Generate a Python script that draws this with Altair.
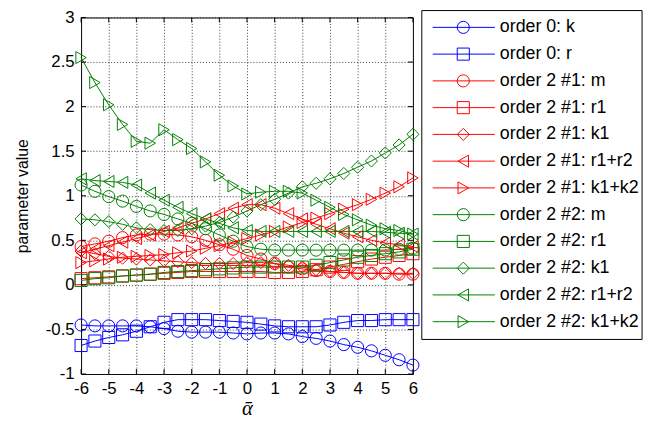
import altair as alt
import pandas as pd

x_vals = [-6, -5.5, -5, -4.5, -4, -3.5, -3, -2.5, -2, -1.5, -1, -0.5, 0,
          0.5, 1, 1.5, 2, 2.5, 3, 3.5, 4, 4.5, 5, 5.5, 6]

series_names = [
    "order 0: k", "order 0: r",
    "order 2 #1: m", "order 2 #1: r1", "order 2 #1: k1", "order 2 #1: r1+r2", "order 2 #1: k1+k2",
    "order 2 #2: m", "order 2 #2: r1", "order 2 #2: k1", "order 2 #2: r1+r2", "order 2 #2: k1+k2",
]
series_colors = ["#0000ff", "#0000ff",
                 "#ff0000", "#ff0000", "#ff0000", "#ff0000", "#ff0000",
                 "#008000", "#008000", "#008000", "#008000", "#008000"]
series_shapes = ["circle", "square",
                 "circle", "square", "diamond", "triangle-left", "triangle-right",
                 "circle", "square", "diamond", "triangle-left", "triangle-right"]

o0_k = [-0.45, -0.46, -0.46, -0.46, -0.46, -0.47, -0.49, -0.52, -0.53, -0.53, -0.53, -0.54, -0.55,
        -0.54, -0.54, -0.55, -0.58, -0.60, -0.63, -0.67, -0.70, -0.74, -0.79, -0.84, -0.90]
o0_r = [-0.68, -0.63, -0.59, -0.56, -0.52, -0.47, -0.42, -0.39, -0.39, -0.39, -0.40, -0.41, -0.42,
        -0.44, -0.46, -0.47, -0.47, -0.47, -0.45, -0.42, -0.40, -0.40, -0.39, -0.39, -0.39]
a_m = [0.43, 0.46, 0.49, 0.53, 0.56, 0.57, 0.57, 0.56, 0.54, 0.50, 0.45, 0.40, 0.33,
       0.29, 0.24, 0.20, 0.18, 0.16, 0.15, 0.14, 0.13, 0.13, 0.13, 0.12, 0.12]
a_r1 = [0.07, 0.08, 0.09, 0.10, 0.11, 0.12, 0.13, 0.14, 0.15, 0.15, 0.15, 0.15, 0.15,
        0.15, 0.14, 0.14, 0.15, 0.17, 0.20, 0.23, 0.26, 0.29, 0.31, 0.33, 0.35]
a_k1 = [0.38, 0.35, 0.32, 0.30, 0.29, 0.28, 0.27, 0.26, 0.25, 0.24, 0.24, 0.24, 0.25,
        0.25, 0.24, 0.22, 0.20, 0.17, 0.15, 0.14, 0.13, 0.13, 0.13, 0.13, 0.13]
a_r12 = [0.36, 0.40, 0.44, 0.48, 0.52, 0.56, 0.60, 0.64, 0.69, 0.74, 0.80, 0.86, 0.90,
         0.90, 0.86, 0.80, 0.74, 0.68, 0.63, 0.58, 0.54, 0.50, 0.47, 0.45, 0.43]
a_k12 = [0.25, 0.27, 0.29, 0.31, 0.32, 0.33, 0.34, 0.36, 0.38, 0.41, 0.44, 0.48, 0.52,
         0.56, 0.60, 0.65, 0.70, 0.75, 0.80, 0.85, 0.90, 0.96, 1.03, 1.10, 1.20]
b_m = [1.12, 1.05, 0.99, 0.94, 0.88, 0.83, 0.79, 0.74, 0.69, 0.63, 0.56, 0.49, 0.43,
       0.40, 0.39, 0.39, 0.39, 0.39, 0.39, 0.39, 0.39, 0.39, 0.39, 0.40, 0.41]
b_r1 = [0.05, 0.07, 0.08, 0.10, 0.11, 0.12, 0.14, 0.15, 0.16, 0.17, 0.18, 0.19, 0.20,
        0.20, 0.20, 0.20, 0.20, 0.22, 0.25, 0.28, 0.31, 0.33, 0.35, 0.37, 0.40]
b_k1 = [0.74, 0.73, 0.71, 0.68, 0.64, 0.62, 0.61, 0.61, 0.63, 0.66, 0.70, 0.76, 0.83,
        0.90, 0.96, 1.03, 1.10, 1.14, 1.19, 1.25, 1.32, 1.39, 1.48, 1.57, 1.69]
b_r12 = [1.19, 1.17, 1.16, 1.15, 1.12, 1.03, 0.95, 0.87, 0.80, 0.74, 0.69, 0.64, 0.61,
         0.60, 0.60, 0.60, 0.60, 0.60, 0.60, 0.60, 0.60, 0.60, 0.59, 0.58, 0.57]
b_k12 = [2.55, 2.27, 2.02, 1.80, 1.61, 1.59, 1.74, 1.63, 1.53, 1.38, 1.23, 1.11, 1.02,
         1.04, 1.05, 1.05, 1.03, 0.95, 0.87, 0.79, 0.73, 0.67, 0.63, 0.61, 0.57]

series_values = [o0_k, o0_r, a_m, a_r1, a_k1, a_r12, a_k12, b_m, b_r1, b_k1, b_r12, b_k12]

x_ticks = [-6, -5, -4, -3, -2, -1, 0, 1, 2, 3, 4, 5, 6]
y_ticks = [-1, -0.5, 0, 0.5, 1, 1.5, 2, 2.5, 3]

W, H = 336, 361

rows = []
for name, vals in zip(series_names, series_values):
    for xv, yv in zip(x_vals, vals):
        rows.append({"series": name, "x": xv, "value": yv})
df = pd.DataFrame(rows)
leg = pd.DataFrame({"series": series_names, "idx": list(range(len(series_names)))})
xt = pd.DataFrame({"x": x_ticks})
yt = pd.DataFrame({"value": y_ticks})

color_scale = alt.Scale(domain=series_names, range=series_colors)
shape_scale = alt.Scale(domain=series_names, range=series_shapes)

x_axis = alt.Axis(values=x_ticks, tickCount=13, title="ᾱ", labelExpr="datum.value",
                  labelOverlap=False, labelFlush=False,
                  titleFont="Liberation Serif", titleFontStyle="italic",
                  titleFontSize=21, titleFontWeight="normal", titlePadding=1,
                  labelPadding=7)
y_axis = alt.Axis(values=y_ticks, tickCount=9, title="parameter value", labelExpr="datum.value",
                  labelOverlap=False, labelFlush=False,
                  titleFontSize=16, titleFontWeight="normal", titlePadding=15,
                  labelPadding=7)
x_scale = alt.Scale(domain=[-6, 6], nice=False)
y_scale = alt.Scale(domain=[-1, 3], nice=False)

lines = alt.Chart(df).mark_line(strokeWidth=1).encode(
    x=alt.X("x:Q", scale=x_scale, axis=x_axis),
    y=alt.Y("value:Q", scale=y_scale, axis=y_axis),
    color=alt.Color("series:N", scale=color_scale, legend=None),
    order="x:Q",
)
points = alt.Chart(df).mark_point(filled=False, size=150, strokeWidth=1, opacity=1).encode(
    x=alt.X("x:Q", scale=x_scale, axis=x_axis),
    y=alt.Y("value:Q", scale=y_scale, axis=y_axis),
    color=alt.Color("series:N", scale=color_scale, legend=None),
    shape=alt.Shape("series:N", scale=shape_scale, legend=None),
)

tick_bottom = alt.Chart(xt).mark_rule(color="black", strokeWidth=1).encode(
    x=alt.X("x:Q", scale=x_scale, axis=x_axis), y=alt.value(H), y2=alt.value(H - 5))
tick_top = alt.Chart(xt).mark_rule(color="black", strokeWidth=1).encode(
    x=alt.X("x:Q", scale=x_scale, axis=x_axis), y=alt.value(0), y2=alt.value(5))
tick_left = alt.Chart(yt).mark_rule(color="black", strokeWidth=1).encode(
    y=alt.Y("value:Q", scale=y_scale, axis=y_axis), x=alt.value(0), x2=alt.value(5))
tick_right = alt.Chart(yt).mark_rule(color="black", strokeWidth=1).encode(
    y=alt.Y("value:Q", scale=y_scale, axis=y_axis), x=alt.value(W), x2=alt.value(W - 5))

main = alt.layer(lines, points, tick_bottom, tick_top, tick_left, tick_right)

legy = alt.Y("idx:Q", scale=alt.Scale(domain=[0, 11], range=[10, 308]), axis=None)
box = alt.Chart(alt.Data(values=[{}])).mark_rect(fill="white", stroke="black", strokeWidth=1).encode(
    x=alt.value(345), x2=alt.value(568), y=alt.value(-7), y2=alt.value(326))
leg_rules = alt.Chart(leg).mark_rule(strokeWidth=1).encode(
    x=alt.value(356), x2=alt.value(419), y=legy,
    color=alt.Color("series:N", scale=color_scale, legend=None))
leg_pts = alt.Chart(leg).mark_point(filled=False, size=150, strokeWidth=1, opacity=1).encode(
    x=alt.value(387), y=legy,
    color=alt.Color("series:N", scale=color_scale, legend=None),
    shape=alt.Shape("series:N", scale=shape_scale, legend=None))
leg_text = alt.Chart(leg).mark_text(align="left", baseline="middle", fontSize=18,
                                    font="Liberation Sans", color="black").encode(
    x=alt.value(424), y=legy, text="series:N")
legend = alt.layer(box, leg_rules, leg_pts, leg_text)

chart = alt.layer(main, legend).resolve_scale(y="independent").properties(
    width=W, height=H,
    autosize="none",
    padding={"left": 74, "top": 7, "right": 236, "bottom": 48},
).configure_view(stroke="black", strokeWidth=1).configure_axis(
    labelFont="Liberation Sans", labelFontSize=17, labelColor="black",
    titleFont="Liberation Sans", titleColor="black",
    grid=True, gridColor="#222", gridDash=[1, 2], gridWidth=1, gridOpacity=0.9,
    ticks=False, domain=False,
)

chart.save("out.html", embed_options={"renderer": "svg", "actions": False})
